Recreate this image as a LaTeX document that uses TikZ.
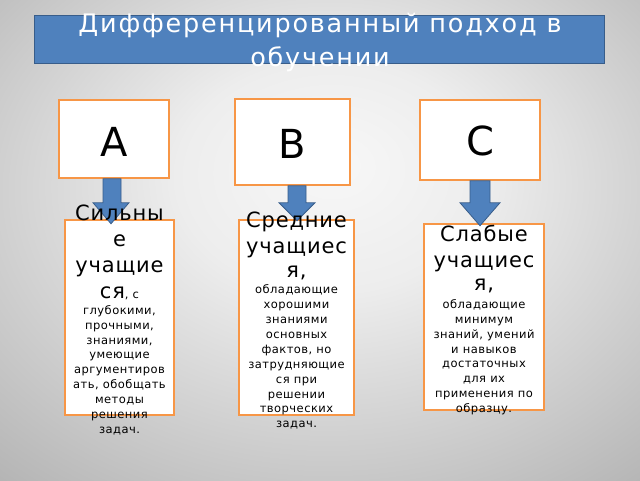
\documentclass[tikz,border=0pt]{standalone}
\usepackage{fontspec}
\setmainfont{DejaVu Sans}
\newfontfamily\titlefam[LetterSpace=7]{DejaVu Sans}
\newfontfamily\smallfam[LetterSpace=4]{DejaVu Sans}
\usetikzlibrary{calc}
\definecolor{obrd}{RGB}{247,150,70}
\definecolor{bfill}{RGB}{79,129,189}
\definecolor{bdark}{RGB}{56,93,138}
\pgfdeclareradialshading{bgshade}{\pgfpoint{1bp}{8bp}}{gray(0bp)=(0.97); gray(12bp)=(0.93); gray(30bp)=(0.78); gray(50bp)=(0.61); gray(71bp)=(0.49)}
\newcommand\tbig{\fontsize{21}{25}\selectfont}
\newcommand\tsmall{\smallfam\fontsize{11.5}{14}\selectfont}
\begin{document}
\begin{tikzpicture}[x=1pt,y=-1pt,
  letterbox/.style={draw=obrd, line width=1.5pt, fill=white, inner sep=0pt},
  blockarrow/.style={fill=bfill, draw=bdark, line width=0.8pt, line join=miter},
  linetext/.style={anchor=base, inner sep=0pt, font=\tsmall, text=black},
  titletext/.style={anchor=base, inner sep=0pt, font=\titlefam\fontsize{25.5}{30}\selectfont, text=white}]
\useasboundingbox (0,0) rectangle (640,480);
\shade[shading=bgshade] (0,0) rectangle (640,480);
% title
\node[fill=bfill, draw=bdark, line width=0.8pt, minimum width=570pt, minimum height=48pt, inner sep=0pt] (title) at (319,39) {};
\node[titletext] (T1) at (320,32.5) {Дифференцированный подход в};
\node[titletext] (T2) at (320,66.5) {обучении};
% letter boxes
\node[letterbox, minimum width=110pt, minimum height=78pt] (A) at (114,139) {};
\node[letterbox, minimum width=115pt, minimum height=86pt] (B) at (292.5,142) {};
\node[letterbox, minimum width=120pt, minimum height=80pt] (C) at (480,140) {};
\node[anchor=base, inner sep=0pt, font=\fontsize{40}{44}\selectfont] (lA) at (114.5,156) {A};
\node[anchor=base, inner sep=0pt, font=\fontsize{40}{44}\selectfont] (lB) at (292.5,158) {B};
\node[anchor=base, inner sep=0pt, font=\fontsize{40}{44}\selectfont] (lC) at (480.5,155) {C};
% text boxes
\node[letterbox, minimum width=109pt, minimum height=195pt] (SA) at (119.5,317.5) {};
\node[letterbox, minimum width=115pt, minimum height=195pt] (SB) at (296.5,317.5) {};
\node[letterbox, minimum width=120pt, minimum height=186pt] (SC) at (484,317) {};
% arrows
\draw[blockarrow] ($(A.south)+(-11,0)$) -- ++(18,0) -- ++(0,24) -- ++(8,0) -- ++(-18,21) -- ++(-18,-21) -- ++(10,0) -- cycle;
\draw[blockarrow] ($(B.south)+(-4.5,0)$) -- ++(18,0) -- ++(0,17) -- ++(9,0) -- ++(-18,18) -- ++(-18,-18) -- ++(9,0) -- cycle;
\draw[blockarrow] ($(C.south)+(-10,0)$) -- ++(20,0) -- ++(0,22) -- ++(10,0) -- ++(-20,23) -- ++(-20,-23) -- ++(10,0) -- cycle;
% texts
\foreach \yy/\linetxt [count=\i] in {220/{\tbig Сильны}, 246/{\tbig е}, 272/{\tbig учащие}, 298/{{\tbig ся}, с}, 314/{глубокими,}, 329/{прочными,}, 344/{знаниями,}, 358/умеющие, 373/аргументиров, 388/{ать, обобщать}, 403/методы, 418/решения, 433/задач.}
  {\node[linetext] (LA\i) at (119.5,\yy) {\linetxt};}
\foreach \yy/\linetxt [count=\i] in {227/{\tbig Средние}, 253/{\tbig учащиес}, 277/{\tbig я,}, 293/обладающие, 308/хорошими, 323/знаниями, 338/основных, 353/{фактов, но}, 368/затрудняющие, 383/ся при, 398/решении, 412/творческих, 427/задач.}
  {\node[linetext] (LB\i) at (296.5,\yy) {\linetxt};}
\foreach \yy/\linetxt [count=\i] in {241/{\tbig Слабые}, 267/{\tbig учащиес}, 290/{\tbig я,}, 308/обладающие, 323/минимум, 338/{знаний, умений}, 353/и навыков, 367/достаточных, 382/для их, 397/применения по, 412/образцу.}
  {\node[linetext] (LC\i) at (484,\yy) {\linetxt};}
\end{tikzpicture}
\end{document}
